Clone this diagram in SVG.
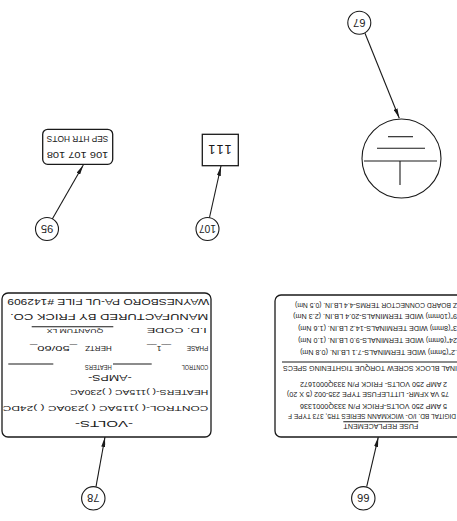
<svg xmlns="http://www.w3.org/2000/svg" width="457" height="521" viewBox="0 0 457 521">
<style>
.ln{stroke:#1a1a1a;stroke-width:1.1;fill:none}
.bx{stroke:#1a1a1a;stroke-width:1.3;fill:#fff}
.t{font-family:"Liberation Sans",Arial,sans-serif;fill:#1a1a1a}
.s{font-size:7px}
.m{font-size:8px}
.b{font-size:9.5px}
.c{font-size:11px;text-anchor:middle}
</style>
<defs>
<marker id="arr" viewBox="0 0 10 4" refX="10" refY="2" markerWidth="10" markerHeight="4" orient="auto" markerUnits="userSpaceOnUse">
<path d="M0,0 L10,2 L0,4 z" fill="#1a1a1a"/>
</marker>
</defs>
<rect width="457" height="521" fill="#fff"/>
<g transform="rotate(180 228.5 260.5)">
<g id="connectors">
<line class="ln" x1="92" y1="487.7" x2="57.7" y2="402.7" marker-end="url(#arr)"/>
<line class="ln" x1="404.7" y1="302" x2="373.7" y2="356" marker-end="url(#arr)"/>
<line class="ln" x1="247.5" y1="303.5" x2="236" y2="355" marker-end="url(#arr)"/>
<line class="ln" x1="361" y1="34.3" x2="352" y2="84" marker-end="url(#arr)"/>
<line class="ln" x1="90.3" y1="34.3" x2="78.7" y2="84" marker-end="url(#arr)"/>
</g>
<g id="c67">
<circle class="ln" cx="97.7" cy="498.3" r="11.5"/>
<text class="t c" x="97.7" y="502.3">67</text>
</g>
<g id="c95">
<circle class="ln" cx="410" cy="292" r="11.5"/>
<text class="t c" x="410" y="296">95</text>
</g>
<g id="c107">
<circle class="ln" cx="249.5" cy="292" r="11.5"/>
<text class="t c" x="249.5" y="296" textLength="17" lengthAdjust="spacingAndGlyphs">107</text>
</g>
<g id="c78">
<circle class="ln" cx="363.7" cy="22.7" r="11.7"/>
<text class="t c" x="363.7" y="26.7">78</text>
</g>
<g id="c66">
<circle class="ln" cx="93.7" cy="22.7" r="11.7"/>
<text class="t c" x="93.7" y="26.7">66</text>
</g>
<g id="ground">
<circle class="ln" cx="55.5" cy="362.5" r="39.5"/>
<line class="ln" x1="57" y1="336" x2="57" y2="360"/>
<line class="ln" x1="20" y1="360" x2="93" y2="360"/>
<line class="ln" x1="32" y1="372.7" x2="80" y2="372.7"/>
<line class="ln" x1="44" y1="384.3" x2="69" y2="384.3"/>
</g>
<g id="box111">
<rect class="bx" x="218.7" y="355.3" width="36" height="31.4"/>
<text class="t" x="225.3" y="375.7" font-size="13" textLength="23.4" lengthAdjust="spacing">111</text>
</g>
<g id="boxsep">
<rect class="bx" x="344.3" y="356.7" width="70" height="35" rx="5"/>
<text class="t b" x="348.7" y="369.5" textLength="61.6" lengthAdjust="spacingAndGlyphs">106 107 108</text>
<text class="t b" x="348.7" y="385" textLength="61.6" lengthAdjust="spacingAndGlyphs">SEP HTR HOTS</text>
</g>
<g id="nameplate">
<rect class="bx" x="246" y="84" width="209" height="144" rx="6"/>
<text class="t b" x="324" y="100.4" textLength="58" lengthAdjust="spacingAndGlyphs">-VOLTS-</text>
<text class="t m" x="248.7" y="114.9" textLength="205.6" lengthAdjust="spacingAndGlyphs">CONTROL-( )115AC ( )230AC ( )24DC</text>
<text class="t m" x="248.7" y="130.9" textLength="138.3" lengthAdjust="spacingAndGlyphs">HEATERS-( )115AC ( )230AC</text>
<text class="t b" x="325.3" y="146.1" textLength="43.7" lengthAdjust="spacingAndGlyphs">-AMPS-</text>
<text class="t m" x="248.7" y="155.6" textLength="26.6" lengthAdjust="spacingAndGlyphs">CONTROL</text>
<line class="ln" x1="305.3" y1="157" x2="344" y2="157"/>
<text class="t m" x="345.3" y="155.6" textLength="26.7" lengthAdjust="spacingAndGlyphs">HEATERS</text>
<line class="ln" x1="403.7" y1="157" x2="448.7" y2="157"/>
<text class="t m" x="248.7" y="174.6" textLength="21.6" lengthAdjust="spacingAndGlyphs">PHASE</text>
<text class="t m" x="286" y="174.6" textLength="24" lengthAdjust="spacingAndGlyphs">__1__</text>
<text class="t m" x="345.3" y="174.6" textLength="26.7" lengthAdjust="spacingAndGlyphs">HERTZ</text>
<text class="t m" x="380" y="174.6" textLength="47" lengthAdjust="spacingAndGlyphs">_50/60_</text>
<text class="t m" x="250.3" y="192.9" textLength="60" lengthAdjust="spacingAndGlyphs">I.D. CODE</text>
<line class="ln" x1="343.7" y1="194.3" x2="425.3" y2="194.3"/>
<text class="t" x="353.7" y="192.3" font-size="5.5" textLength="56.6" lengthAdjust="spacingAndGlyphs">QUANTUM LX</text>
<text class="t b" x="248.7" y="207.3" textLength="198.3" lengthAdjust="spacingAndGlyphs">MANUFACTURED BY FRICK CO.</text>
<text class="t b" x="247.7" y="221.9" textLength="202" lengthAdjust="spacingAndGlyphs">WAYNESBORO PA-UL FILE #142909</text>
</g>
<g id="fusebox">
<rect class="bx" x="-20" y="84" width="202" height="142" rx="6"/>
<text class="t s" x="38.7" y="96.8" textLength="75" lengthAdjust="spacingAndGlyphs">FUSE REPLACEMENT</text>
<line class="ln" x1="38.7" y1="99.3" x2="113.7" y2="99.3"/>
<text class="t s" x="1" y="107" textLength="168" lengthAdjust="spacingAndGlyphs">DIGITAL BD. I/O- WICKMANN SERIES TR5, 373 TYPE F</text>
<text class="t s" x="10" y="117.5" textLength="147" lengthAdjust="spacingAndGlyphs">5 AMP 250 VOLTS-FRICK P/N 333Q0001336</text>
<text class="t s" x="8" y="129.5" textLength="162" lengthAdjust="spacingAndGlyphs">75 VA XFMR- LITTLEFUSE TYPE 235-002 (5 X 20)</text>
<text class="t s" x="10" y="139.5" textLength="147" lengthAdjust="spacingAndGlyphs">2 AMP 250 VOLTS- FRICK P/N 333Q0001672</text>
<text class="t s" x="0" y="155.5" textLength="174" lengthAdjust="spacingAndGlyphs">INAL BLOCK SCREW TORQUE TIGHTENING SPECS</text>
<line class="ln" x1="-5" y1="159" x2="175" y2="159"/>
<text class="t s" x="0" y="171.5" textLength="157" lengthAdjust="spacingAndGlyphs">.2"(5mm) WIDE TERMINALS-7.1 LB.IN. (0.8 Nm)</text>
<text class="t s" x="0" y="183.5" textLength="159" lengthAdjust="spacingAndGlyphs">24"(6mm) WIDE TERMINALS-9.0 LB.IN. (1.0 Nm)</text>
<text class="t s" x="0" y="195.5" textLength="159" lengthAdjust="spacingAndGlyphs">3"(8mm) WIDE TERMINALS-14.2 LB.IN. (1.6 Nm)</text>
<text class="t s" x="0" y="207.5" textLength="164" lengthAdjust="spacingAndGlyphs">9"(10mm) WIDE TERMINALS-20.4 LB.IN. (2.3 Nm)</text>
<text class="t s" x="0" y="218.5" textLength="162" lengthAdjust="spacingAndGlyphs">Z BOARD CONNECTOR TERMS-4.4 LB.IN. (0.5 Nm)</text>
</g>
</g>
</svg>
